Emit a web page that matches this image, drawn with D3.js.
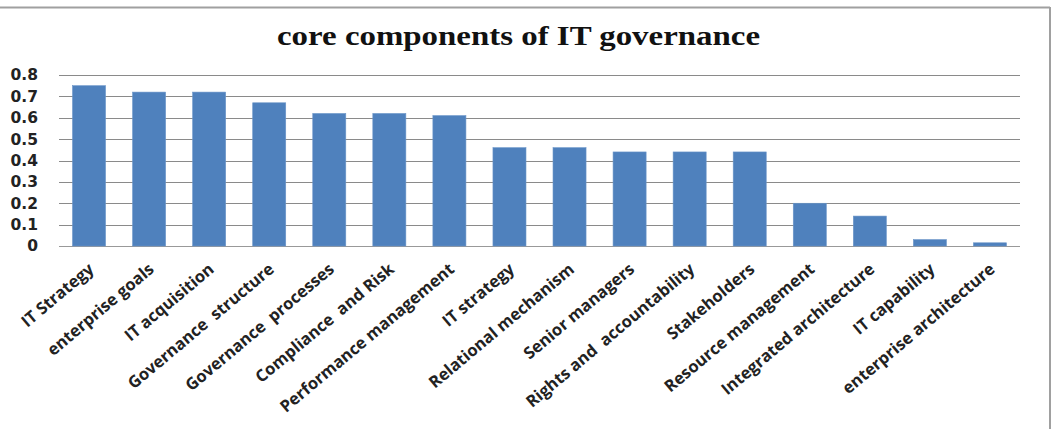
<!DOCTYPE html>
<html lang="en">
<head>
  <meta charset="UTF-8">
  <title>core components of IT governance</title>
  <script src="https://cdn.jsdelivr.net/npm/d3@7"></script>
  <style>
    body { margin: 0; background: #fff; }
  </style>
</head>
<body>
<script>
  // data
  const categories = [
    "IT Strategy", "enterprise goals", "IT acquisition", "Governance  structure",
    "Governance  processes", "Compliance  and Risk", "Performance management",
    "IT strategy", "Relational mechanism", "Senior managers", "Rights and  accountability",
    "Stakeholders", "Resource management", "Integrated architecture", "IT capability",
    "enterprise architecture"
  ];
  const values = [0.75, 0.72, 0.72, 0.67, 0.62, 0.62, 0.61, 0.46, 0.46, 0.44, 0.44, 0.44, 0.20, 0.14, 0.03, 0.015];
  const yTicks = [0, 0.1, 0.2, 0.3, 0.4, 0.5, 0.6, 0.7, 0.8];

  const W = 1059, H = 429;
  const plotLeft = 59, plotRight = 1020, plotTop = 75, plotBottom = 246;

  const svg = d3.select('body').append('svg')
    .attr('width', W)
    .attr('height', H);

  // outer frame (only top and right edges show)
  svg.append('line').attr('x1', 0).attr('x2', 1050).attr('y1', 7.5).attr('y2', 7.5)
    .attr('stroke', '#a0a0a0').attr('stroke-width', 2);
  svg.append('line').attr('x1', 1050).attr('x2', 1050).attr('y1', 7).attr('y2', H)
    .attr('stroke', '#a0a0a0').attr('stroke-width', 2);

  // title (the source is stretched sideways, so fit it to its width)
  svg.append('text')
    .attr('x', 518.5).attr('y', 45)
    .attr('text-anchor', 'middle')
    .attr('textLength', 483)
    .attr('lengthAdjust', 'spacingAndGlyphs')
    .style('font-family', '"Liberation Serif", serif')
    .style('font-weight', 'bold')
    .style('font-size', '28px')
    .attr('fill', '#111')
    .text('core components of IT governance');

  const x = d3.scaleBand().domain(categories).range([plotLeft, plotRight]).paddingInner(0.45).paddingOuter(0.225);
  const y = d3.scaleLinear().domain([0, 0.8]).range([plotBottom, plotTop]);

  // gridlines
  svg.append('g').selectAll('line')
    .data(yTicks)
    .enter().append('line')
    .attr('x1', plotLeft).attr('x2', plotRight)
    .attr('y1', d => Math.round(y(d)) + 0.5)
    .attr('y2', d => Math.round(y(d)) + 0.5)
    .attr('stroke', d => d === 0 ? '#999' : '#8a8a8a')
    .attr('stroke-width', 1.2);

  // y axis labels
  const yAxis = d3.axisLeft(y).tickValues(yTicks).tickSize(0).tickPadding(0)
    .tickFormat(d => d === 0 ? '0' : d3.format('.1f')(d));
  const gy = svg.append('g').attr('transform', `translate(38,0)`).call(yAxis);
  gy.select('.domain').remove();
  gy.selectAll('text')
    .style('font-family', '"DejaVu Sans", sans-serif')
    .style('font-weight', 'bold')
    .style('font-size', '15.5px')
    .attr('fill', '#222');

  // bars
  svg.append('g').selectAll('rect')
    .data(values)
    .enter().append('rect')
    .attr('x', (d, i) => x(categories[i]))
    .attr('y', d => y(d))
    .attr('width', x.bandwidth())
    .attr('height', d => plotBottom - y(d))
    .attr('fill', '#4f81bd')
    .attr('stroke', '#6a95c8')
    .attr('stroke-width', 0.6);

  // rotated category labels
  svg.append('g').selectAll('text')
    .data(categories)
    .enter().append('text')
    .attr('transform', d => `translate(${x(d) + x.bandwidth() / 2 + 6},${271}) rotate(-40)`)
    .attr('text-anchor', 'end')
    .style('font-family', '"Open Sans", sans-serif')
    .style('font-weight', 'bold')
    .style('font-size', '16.5px')
    .style('white-space', 'pre')
    .attr('fill', '#222')
    .text(d => d);
</script>
</body>
</html>
